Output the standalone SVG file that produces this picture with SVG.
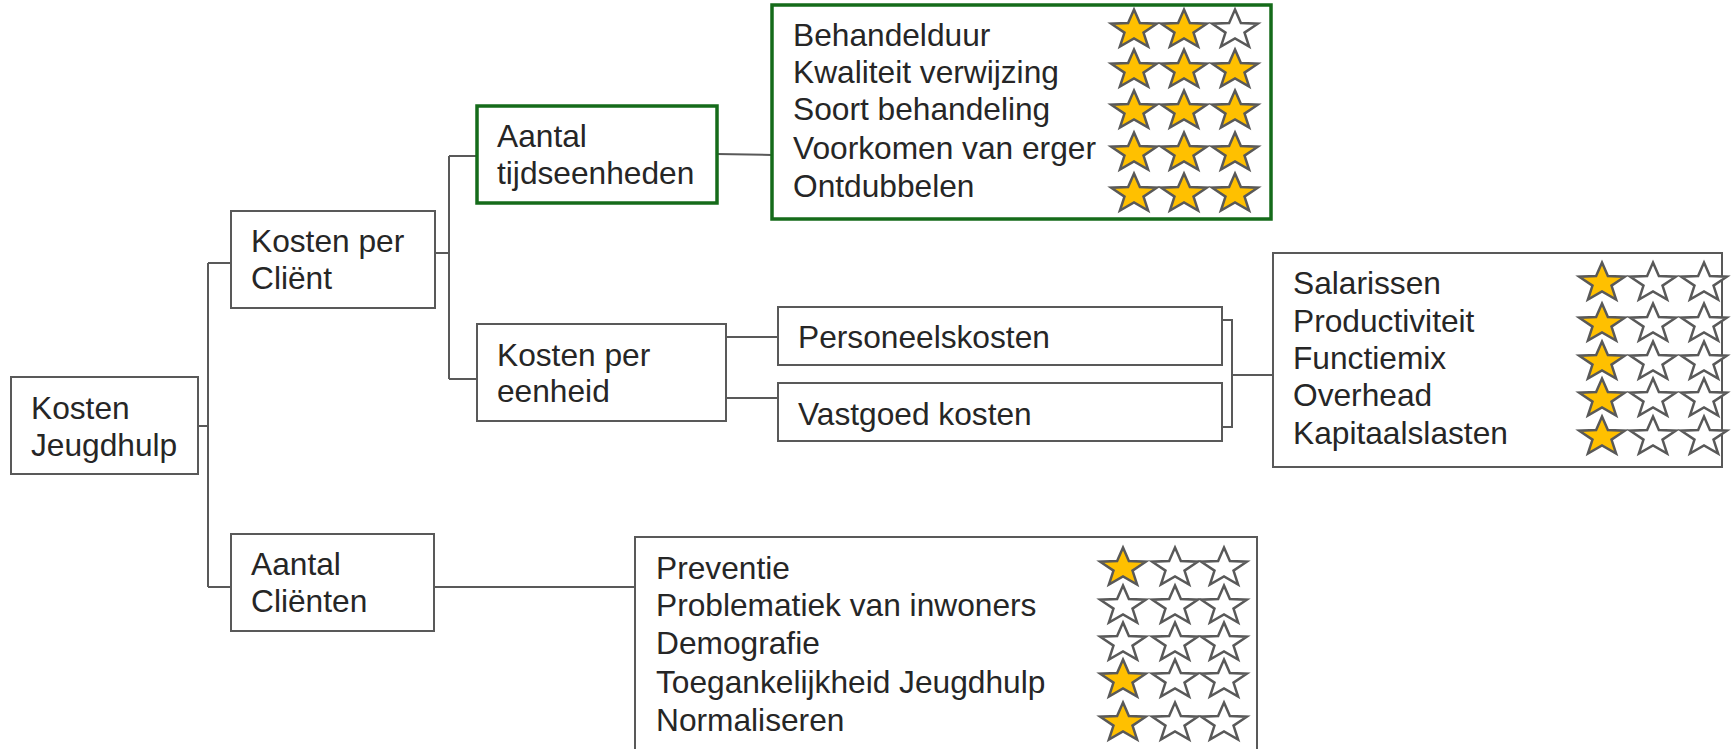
<svg xmlns="http://www.w3.org/2000/svg" xmlns:xlink="http://www.w3.org/1999/xlink" width="1734" height="749" viewBox="0 0 1734 749">
<style>
.box{fill:#fff;stroke:#595959;stroke-width:2}
.green{fill:#fff;stroke:#156b1a;stroke-width:3.5}
.t{font-family:"Liberation Sans",Arial,sans-serif;font-size:31.7px;fill:#262626}
.con{fill:none;stroke:#595959;stroke-width:2}
.f{fill:#ffc000;stroke:#595959;stroke-width:2.5;stroke-linejoin:miter}
.e{fill:#fff;stroke:#595959;stroke-width:2.5;stroke-linejoin:miter}
</style>
<defs>
<path id="s" d="M0,-20.4 L5.88,-6.88 L22.83,-6.3 L9.51,2.63 L14.11,16.5 L0,8.5 L-14.11,16.5 L-9.51,2.63 L-22.83,-6.3 L-5.88,-6.88 Z"/>
</defs>
<rect width="1734" height="749" fill="#fff"/>
<g id="connectors">
<path class="con" d="M198,426 H208 M208,263 V587 M208,263 H231 M208,587 H231"/>
<path class="con" d="M435,253 H449 M449,156 V379 M449,156 H477 M449,379 H477"/>
<path class="con" d="M717,154 L772,155"/>
<path class="con" d="M726,337 H778 M726,398 H778"/>
<path class="con" d="M1223,320 H1232 V427 H1223 M1232,375 H1273"/>
<path class="con" d="M434,587 H635"/>
</g>
<g id="kosten-jeugdhulp">
<rect class="box" x="11" y="377" width="187" height="97"/>
<text class="t" x="31" y="419">Kosten</text>
<text class="t" x="31" y="456">Jeugdhulp</text>
</g>
<g id="kosten-per-client">
<rect class="box" x="231" y="211" width="204" height="97"/>
<text class="t" x="251" y="252">Kosten per</text>
<text class="t" x="251" y="289">Cliënt</text>
</g>
<g id="aantal-clienten">
<rect class="box" x="231" y="534" width="203" height="97"/>
<text class="t" x="251" y="575">Aantal</text>
<text class="t" x="251" y="612">Cliënten</text>
</g>
<g id="aantal-tijdseenheden">
<rect class="green" x="477" y="106" width="240" height="97"/>
<text class="t" x="497" y="147">Aantal</text>
<text class="t" x="497" y="184">tijdseenheden</text>
</g>
<g id="kosten-per-eenheid">
<rect class="box" x="477" y="324" width="249" height="97"/>
<text class="t" x="497" y="366">Kosten per</text>
<text class="t" x="497" y="402">eenheid</text>
</g>
<g id="personeelskosten">
<rect class="box" x="778" y="307" width="444" height="58"/>
<text class="t" x="798" y="348">Personeelskosten</text>
</g>
<g id="vastgoed-kosten">
<rect class="box" x="778" y="383" width="444" height="58"/>
<text class="t" x="798" y="425">Vastgoed kosten</text>
</g>
<g id="tijd-factoren">
<rect class="green" x="772" y="5" width="499" height="214"/>
<text class="t" x="793" y="46">Behandelduur</text>
<text class="t" x="793" y="83">Kwaliteit verwijzing</text>
<text class="t" x="793" y="120">Soort behandeling</text>
<text class="t" x="793" y="159">Voorkomen van erger</text>
<text class="t" x="793" y="197">Ontdubbelen</text>
<use href="#s" class="f" x="1134" y="30"/><use href="#s" class="f" x="1184" y="30"/><use href="#s" class="e" x="1235" y="30"/>
<use href="#s" class="f" x="1134" y="70"/><use href="#s" class="f" x="1184" y="70"/><use href="#s" class="f" x="1235" y="70"/>
<use href="#s" class="f" x="1134" y="111"/><use href="#s" class="f" x="1184" y="111"/><use href="#s" class="f" x="1235" y="111"/>
<use href="#s" class="f" x="1134" y="153"/><use href="#s" class="f" x="1184" y="153"/><use href="#s" class="f" x="1235" y="153"/>
<use href="#s" class="f" x="1134" y="194"/><use href="#s" class="f" x="1184" y="194"/><use href="#s" class="f" x="1235" y="194"/>
</g>
<g id="kosten-factoren">
<rect class="box" x="1273" y="253" width="449" height="214"/>
<text class="t" x="1293" y="294">Salarissen</text>
<text class="t" x="1293" y="332">Productiviteit</text>
<text class="t" x="1293" y="369">Functiemix</text>
<text class="t" x="1293" y="406">Overhead</text>
<text class="t" x="1293" y="444">Kapitaalslasten</text>
<use href="#s" class="f" x="1602" y="283"/><use href="#s" class="e" x="1653" y="283"/><use href="#s" class="e" x="1704" y="283"/>
<use href="#s" class="f" x="1602" y="324"/><use href="#s" class="e" x="1653" y="324"/><use href="#s" class="e" x="1704" y="324"/>
<use href="#s" class="f" x="1602" y="362"/><use href="#s" class="e" x="1653" y="362"/><use href="#s" class="e" x="1704" y="362"/>
<use href="#s" class="f" x="1602" y="399"/><use href="#s" class="e" x="1653" y="399"/><use href="#s" class="e" x="1704" y="399"/>
<use href="#s" class="f" x="1602" y="437"/><use href="#s" class="e" x="1653" y="437"/><use href="#s" class="e" x="1704" y="437"/>
</g>
<g id="clienten-factoren">
<rect class="box" x="635" y="537" width="622" height="230"/>
<text class="t" x="656" y="579">Preventie</text>
<text class="t" x="656" y="616">Problematiek van inwoners</text>
<text class="t" x="656" y="654">Demografie</text>
<text class="t" x="656" y="693">Toegankelijkheid Jeugdhulp</text>
<text class="t" x="656" y="731">Normaliseren</text>
<use href="#s" class="f" x="1123" y="568"/><use href="#s" class="e" x="1175" y="568"/><use href="#s" class="e" x="1224" y="568"/>
<use href="#s" class="e" x="1123" y="606"/><use href="#s" class="e" x="1175" y="606"/><use href="#s" class="e" x="1224" y="606"/>
<use href="#s" class="e" x="1123" y="643"/><use href="#s" class="e" x="1175" y="643"/><use href="#s" class="e" x="1224" y="643"/>
<use href="#s" class="f" x="1123" y="680"/><use href="#s" class="e" x="1175" y="680"/><use href="#s" class="e" x="1224" y="680"/>
<use href="#s" class="f" x="1123" y="723"/><use href="#s" class="e" x="1175" y="723"/><use href="#s" class="e" x="1224" y="723"/>
</g>
</svg>
